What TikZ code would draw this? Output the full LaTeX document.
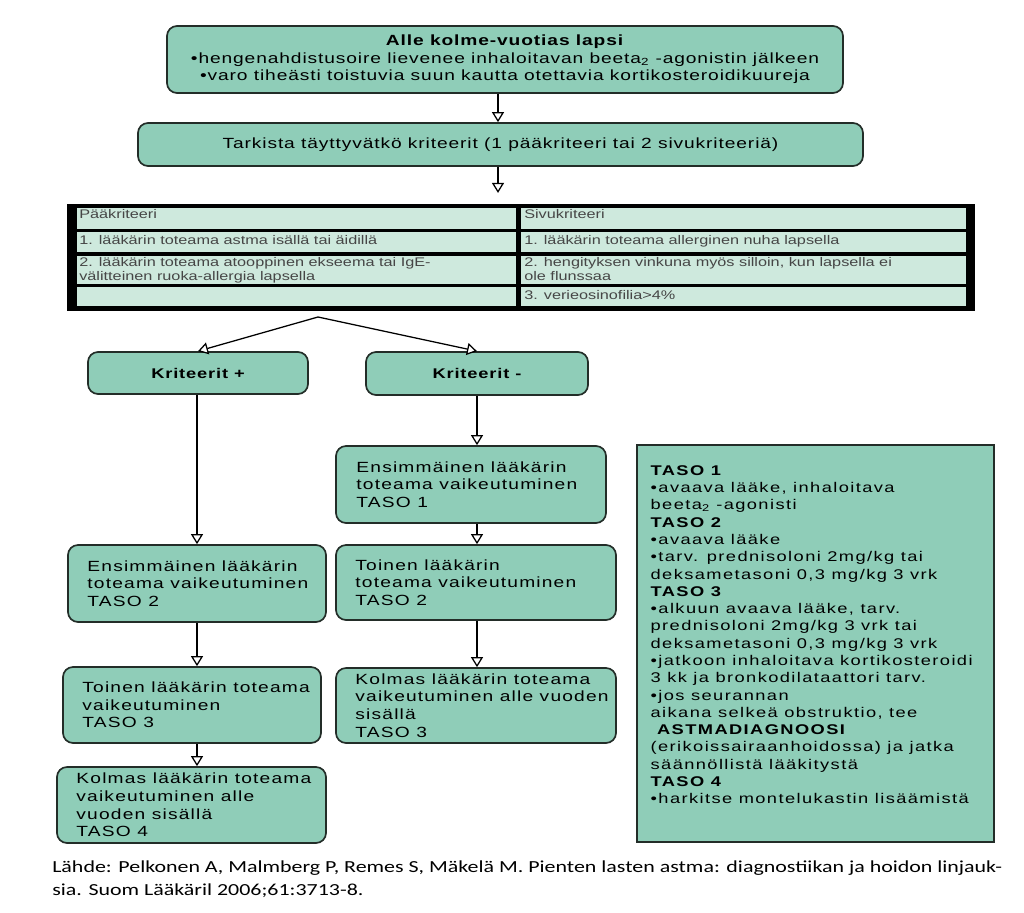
\documentclass[tikz,border=0pt]{standalone}
\usepackage{fontspec}
\setmainfont{Liberation Sans}[FakeStretch=1.3]
\newfontfamily\topfont{Liberation Sans}[FakeStretch=1.3,LetterSpace=6]
\newfontfamily\boxfont{Liberation Sans}[FakeStretch=1.3,LetterSpace=8]
\newfontfamily\infofont{Liberation Sans}[FakeStretch=1.3,LetterSpace=10]
\newfontfamily\notefont{Carlito}[FakeStretch=1.3]
\usetikzlibrary{arrows.meta, positioning, calc}
\definecolor{boxfill}{RGB}{143,205,184}
\definecolor{cellfill}{RGB}{206,233,221}
\definecolor{edgedark}{RGB}{35,45,40}
\definecolor{celltext}{RGB}{70,70,70}

\tikzset{
  stepbox/.style={draw=edgedark, line width=1.2pt, fill=boxfill, rounded corners=0.25cm, inner sep=0pt},
  boxtxt/.style={anchor=west, inner sep=0pt, align=left, font=\boxfont\fontsize{10.5}{12.5}\selectfont},
  flow/.style={line width=0.9pt, -{Triangle[length=0.25cm, width=0.3cm, fill=white]}},
  celltxt/.style={anchor=north west, inner sep=0pt, align=left, font=\fontsize{8.9}{10}\selectfont, text=celltext}
}

\begin{document}
\begin{tikzpicture}
\useasboundingbox (0,0) rectangle (25.6,-22.8);

% start and check
\node[stepbox, minimum width=16.9cm, minimum height=1.675cm, align=center,
  font=\topfont\fontsize{10.5}{12.5}\selectfont] (alle) at (12.625,-1.4875)
  {\textbf{Alle kolme-vuotias lapsi}\\
   •hengenahdistusoire lievenee inhaloitavan beeta\textsubscript{2} -agonistin jälkeen\\
   •varo tiheästi toistuvia suun kautta otettavia kortikosteroidikuureja};
\node[stepbox, minimum width=18.125cm, minimum height=1.075cm,
  font=\topfont\fontsize{10.5}{12.5}\selectfont] (tark) at (12.5125,-3.6125)
  {Tarkista täyttyvätkö kriteerit (1 pääkriteeri tai 2 sivukriteeriä)};
\coordinate (axis) at (12.45,0);
\draw[flow] (alle.south -| axis) -- (tark.north -| axis);

% criteria table
\node[fill=black, minimum width=22.7cm, minimum height=2.675cm, inner sep=0pt] (crit) at (13.025,-6.4375) {};
\draw[flow, shorten >=0.27cm] (tark.south -| axis) -- (crit.north -| axis);
\foreach \ya/\yb in {5.2/5.725, 5.8/6.3, 6.4/7.1, 7.175/7.65} {
  \fill[cellfill] (1.925,-\ya) rectangle (12.9,-\yb);
  \fill[cellfill] (13.025,-\ya) rectangle (24.15,-\yb);
}
\node[celltxt] (pk0) at (1.975,-5.22) {Pääkriteeri};
\node[celltxt] (pk1) at (1.975,-5.89) {1. lääkärin toteama astma isällä tai äidillä};
\node[celltxt] (pk2) at (1.975,-6.43) {2. lääkärin toteama atooppinen ekseema tai IgE-\\välitteinen ruoka-allergia lapsella};
\node[celltxt] (sk0) at (13.1,-5.22) {Sivukriteeri};
\node[celltxt] (sk1) at (13.1,-5.89) {1. lääkärin toteama allerginen nuha lapsella};
\node[celltxt] (sk2) at (13.1,-6.43) {2. hengityksen vinkuna myös silloin, kun lapsella ei\\ole flunssaa};
\node[celltxt] (sk3) at (13.1,-7.25) {3. verieosinofilia>4\%};

% branches
\coordinate (fork) at (7.95,-7.925);
\node[stepbox, minimum width=5.5cm, minimum height=1.05cm, font=\bfseries\topfont\fontsize{10}{12}\selectfont] (kplus) at (4.95,-9.325) {Kriteerit +};
\node[stepbox, minimum width=5.55cm, minimum height=1.075cm, font=\bfseries\topfont\fontsize{10}{12}\selectfont] (kminus) at (11.925,-9.3375) {Kriteerit -};
\draw[flow] (fork) -- (kplus.north);
\draw[flow] (fork) -- (kminus.north);

% left column
\coordinate (lcol) at (4.925,0);
\node[stepbox, minimum width=6.45cm, minimum height=1.925cm] (ens2) at (4.925,-14.5875) {};
\node[boxtxt] (ens2txt) at ([xshift=0.5cm]ens2.west) {Ensimmäinen lääkärin\\toteama vaikeutuminen\\TASO 2};
\node[stepbox, minimum width=6.45cm, minimum height=1.9cm] (toi3) at (4.8,-17.625) {};
\node[boxtxt] (toi3txt) at ([xshift=0.5cm]toi3.west) {Toinen lääkärin toteama\\vaikeutuminen\\TASO 3};
\node[stepbox, minimum width=6.725cm, minimum height=1.9cm] (kol4) at (4.7875,-20.125) {};
\node[boxtxt] (kol4txt) at ([xshift=0.5cm]kol4.west) {Kolmas lääkärin toteama\\vaikeutuminen alle\\vuoden sisällä\\TASO 4};
\draw[flow] (kplus.south -| lcol) -- (ens2.north -| lcol);
\draw[flow] (ens2.south -| lcol) -- (toi3.north -| lcol);
\draw[flow] (toi3.south -| lcol) -- (kol4.north -| lcol);

% right column
\coordinate (rcol) at (11.925,0);
\node[stepbox, minimum width=6.75cm, minimum height=1.925cm] (ens1) at (11.775,-12.1125) {};
\node[boxtxt] (ens1txt) at ([xshift=0.525cm]ens1.west) {Ensimmäinen lääkärin\\toteama vaikeutuminen\\TASO 1};
\node[stepbox, minimum width=7.0cm, minimum height=1.875cm] (toi2) at (11.9,-14.5625) {};
\node[boxtxt] (toi2txt) at ([xshift=0.5cm]toi2.west) {Toinen lääkärin\\toteama vaikeutuminen\\TASO 2};
\node[stepbox, minimum width=7.0cm, minimum height=1.875cm] (kol3) at (11.9,-17.6375) {};
\node[boxtxt] (kol3txt) at ([xshift=0.5cm]kol3.west) {Kolmas lääkärin toteama\\vaikeutuminen alle vuoden\\sisällä\\TASO 3};
\draw[flow] (kminus.south -| rcol) -- (ens1.north -| rcol);
\draw[flow] (ens1.south -| rcol) -- (toi2.north -| rcol);
\draw[flow] (toi2.south -| rcol) -- (kol3.north -| rcol);

% treatment levels
\node[draw=edgedark, line width=0.9pt, fill=boxfill, inner sep=0pt, minimum width=8.925cm, minimum height=9.925cm] (taso) at (20.3875,-16.0875) {};
\node[anchor=north west, inner sep=0pt, align=left, font=\infofont\fontsize{10}{12.3}\selectfont] (tasotxt)
  at ([xshift=0.35cm, yshift=-0.52cm]taso.north west)
  {\textbf{TASO 1}\\
   •avaava lääke, inhaloitava\\
   beeta\textsubscript{2} -agonisti\\
   \textbf{TASO 2}\\
   •avaava lääke\\
   •tarv. prednisoloni 2mg/kg tai\\
   deksametasoni 0,3 mg/kg 3 vrk\\
   \textbf{TASO 3}\\
   •alkuun avaava lääke, tarv.\\
   prednisoloni 2mg/kg 3 vrk tai\\
   deksametasoni 0,3 mg/kg 3 vrk\\
   •jatkoon inhaloitava kortikosteroidi\\
   3 kk ja bronkodilataattori tarv.\\
   •jos seurannan\\
   aikana selkeä obstruktio, tee\\
   \ \textbf{ASTMADIAGNOOSI}\\
   (erikoissairaanhoidossa) ja jatka\\
   säännöllistä lääkitystä\\
   \textbf{TASO 4}\\
   •harkitse montelukastin lisäämistä};

% source
\node[anchor=north west, inner sep=0pt, align=left, font=\notefont\fontsize{12}{16.5}\selectfont] (src) at (1.3,-21.5)
  {Lähde: Pelkonen A, Malmberg P, Remes S, Mäkelä M. Pienten lasten astma: diagnostiikan ja hoidon linjauk-\\
   sia. Suom Lääkäril 2006;61:3713-8.};
\end{tikzpicture}
\end{document}
